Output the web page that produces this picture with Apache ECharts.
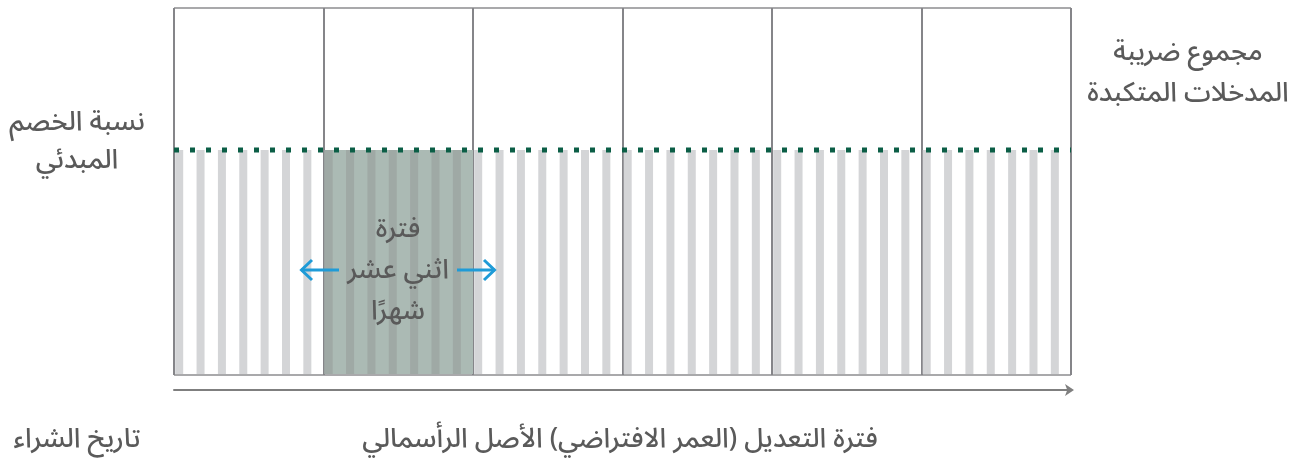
<!DOCTYPE html>
<html>
<head>
<meta charset="utf-8">
<script src="https://cdn.jsdelivr.net/npm/echarts@6/dist/echarts.min.js"></script>
<style>
html,body{margin:0;padding:0;background:#fff;}
#chart{width:1308px;height:461px;}
</style>
</head>
<body>
<div id="chart"></div>
<script>
// ---- data ----
const panelCount = 6;               // adjustment years
const stripesPerPanel = 7;
const stripeLevels = [
  61.3,61.3,61.3,61.3,61.3,61.3,61.3,
  61.3,61.3,61.3,61.3,61.3,61.3,61.3,
  61.3,61.3,61.3,61.3,61.3,61.3,61.3,
  61.3,61.3,61.3,61.3,61.3,61.3,61.3,
  61.3,61.3,61.3,61.3,61.3,61.3,61.3,
  61.3,61.3,61.3,61.3,61.3,61.3,61.3
];
const initialRatio = 61.3;
const highlightPeriod = [7, 14];     // second panel (twelve-month period)
const labelInitialRatio = ['نسبة الخصم', 'المبدئي'];
const labelTotalTax = ['مجموع ضريبة', 'المدخلات المتكبدة'];
const labelPurchaseDate = 'تاريخ الشراء';
const labelAdjustment = 'فترة التعديل (العمر الافتراضي) الأصل الرأسمالي';
const labelTwelve = ['فترة', 'اثني عشر', 'شهرًا'];

const FONT = '"Noto Sans Arabic","DejaVu Sans",sans-serif';
const TXT = '#5a5a5a';
const FS = '500 27px ';
const total = panelCount * stripesPerPanel;

const chart = echarts.init(document.getElementById('chart'), null, {renderer: 'canvas'});

const stripeData = stripeLevels.map((v, i) => [i, v]);

const option = {
  animation: false,
  grid: {left: 174, right: 237, top: 8, bottom: 86},
  xAxis: {
    type: 'value', min: 0, max: total, interval: stripesPerPanel,
    offset: 15,
    axisLine: {show: true, onZero: false, lineStyle: {color: '#7f7f7f', width: 2},
      symbol: ['none', 'arrow'], symbolSize: [9, 9], symbolOffset: [0, 3]},
    axisTick: {show: false}, axisLabel: {show: false},
    splitLine: {show: true, lineStyle: {color: '#858589', width: 2}}
  },
  yAxis: {
    type: 'value', min: 0, max: 100, interval: 100,
    axisLine: {show: false}, axisTick: {show: false}, axisLabel: {show: false},
    splitLine: {show: true, lineStyle: {color: '#a9a9ab', width: 2}}
  },
  series: [
    {
      type: 'custom', z: 1, silent: true,
      data: [[highlightPeriod[0], highlightPeriod[1], initialRatio]],
      renderItem: function (params, api) {
        const p0 = api.coord([api.value(0), api.value(2)]);
        const p1 = api.coord([api.value(1), 0]);
        return {type: 'rect', shape: {x: p0[0] + 1, y: p0[1], width: p1[0] - p0[0] - 1, height: p1[1] - p0[1] - 1},
          style: {fill: '#abbab4'}};
      }
    },
    {
      type: 'custom', z: 2, silent: true,
      data: stripeData,
      renderItem: function (params, api) {
        const x = api.value(0);
        const p0 = api.coord([x, api.value(1)]);
        const p1 = api.coord([x, 0]);
        const hl = x >= highlightPeriod[0] && x < highlightPeriod[1];
        return {type: 'rect', shape: {x: p0[0] + 1.2, y: p0[1], width: 8, height: p1[1] - p0[1] - 1},
          style: {fill: hl ? '#9fa9a5' : '#d4d5d7'}};
      }
    },
    {
      type: 'line', z: 3, silent: true, symbol: 'none',
      data: [[0, initialRatio], [total, initialRatio]],
      lineStyle: {color: '#0b5e46', width: 5, type: [5, 11], cap: 'butt'}
    }
  ],
  graphic: [
    {type: 'text', x: 77, y: 145, style: {text: labelInitialRatio.join('\n'), font: FS + FONT, fill: TXT,
      align: 'center', verticalAlign: 'middle', lineHeight: 38}},
    {type: 'text', x: 1188, y: 76, style: {text: labelTotalTax.join('\n'), font: FS + FONT, fill: TXT,
      align: 'center', verticalAlign: 'middle', lineHeight: 41}},
    {type: 'text', x: 77, y: 443, style: {text: labelPurchaseDate, font: FS + FONT, fill: TXT,
      align: 'center', verticalAlign: 'middle'}},
    {type: 'text', x: 620, y: 443, style: {text: labelAdjustment, font: FS + FONT, fill: TXT,
      align: 'center', verticalAlign: 'middle'}},
    {type: 'text', x: 398, y: 274, z: 10, style: {text: labelTwelve.join('\n'), font: FS + FONT, fill: TXT,
      align: 'center', verticalAlign: 'middle', lineHeight: 41}},
    {type: 'polyline', z: 10, shape: {points: [[301, 270], [339, 270]]}, style: {stroke: '#1f9bd7', lineWidth: 3}},
    {type: 'polyline', z: 10, shape: {points: [[312, 260], [301.5, 270], [312, 280]]}, style: {stroke: '#1f9bd7', lineWidth: 3, fill: null}},
    {type: 'polyline', z: 10, shape: {points: [[457, 270], [495, 270]]}, style: {stroke: '#1f9bd7', lineWidth: 3}},
    {type: 'polyline', z: 10, shape: {points: [[484, 260], [494.5, 270], [484, 280]]}, style: {stroke: '#1f9bd7', lineWidth: 3, fill: null}}
  ]
};
chart.setOption(option);
</script>
</body>
</html>
